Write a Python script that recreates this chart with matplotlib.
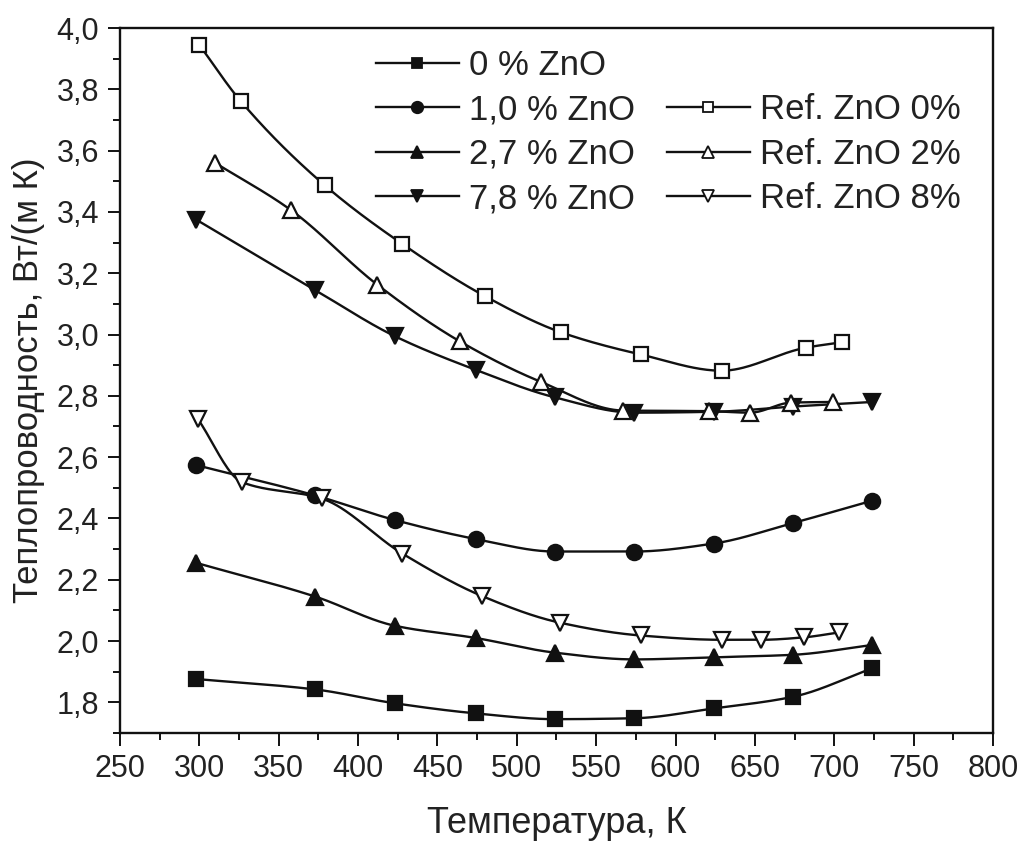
import numpy as np
import matplotlib
matplotlib.use("Agg")
import matplotlib.pyplot as plt
from matplotlib.lines import Line2D
from matplotlib.ticker import MultipleLocator, FuncFormatter

plt.rcParams['font.family'] = ['Liberation Sans', 'DejaVu Sans']

# ---- data ----
T_exp = [298, 373, 423, 474, 524, 574, 624, 674, 724]
k_0 = [1.876, 1.842, 1.797, 1.764, 1.745, 1.748, 1.780, 1.818, 1.911]
k_10 = [2.574, 2.475, 2.395, 2.333, 2.292, 2.292, 2.318, 2.385, 2.458]
k_27 = [2.255, 2.145, 2.050, 2.010, 1.962, 1.940, 1.947, 1.955, 1.987]
k_78 = [3.375, 3.145, 2.995, 2.885, 2.795, 2.745, 2.748, 2.765, 2.780]

T_ref0 = [300, 326, 379, 428, 480, 528, 578, 629, 682, 705]
k_ref0 = [3.945, 3.762, 3.487, 3.295, 3.125, 3.007, 2.935, 2.882, 2.957, 2.975]

T_ref2 = [310, 358, 412, 464, 515, 567, 621, 647, 673, 699]
k_ref2 = [3.560, 3.405, 3.163, 2.978, 2.846, 2.752, 2.750, 2.745, 2.778, 2.780]

T_ref8 = [299, 327, 377, 428, 478, 527, 578, 629, 654, 681, 703]
k_ref8 = [2.725, 2.518, 2.465, 2.285, 2.147, 2.060, 2.018, 2.004, 2.004, 2.012, 2.028]

labels_exp = ['0 % ZnO', '1,0 % ZnO', '2,7 % ZnO', '7,8 % ZnO']
labels_ref = ['Ref. ZnO 0%', 'Ref. ZnO 2%', 'Ref. ZnO 8%']
x_label = 'Температура, К'
y_label = 'Теплопроводность, Вт/(м К)'


def smooth(x, y, n=300):
    """Monotone piecewise cubic (PCHIP) curve through the points."""
    x = np.asarray(x, float)
    y = np.asarray(y, float)
    h = np.diff(x)
    d = np.diff(y) / h
    m = np.zeros_like(y)
    for i in range(1, len(x) - 1):
        if d[i - 1] * d[i] > 0:
            w1 = 2 * h[i] + h[i - 1]
            w2 = h[i] + 2 * h[i - 1]
            m[i] = (w1 + w2) / (w1 / d[i - 1] + w2 / d[i])
    m[0] = d[0]
    m[-1] = d[-1]
    xs = np.linspace(x[0], x[-1], n)
    idx = np.clip(np.searchsorted(x, xs) - 1, 0, len(x) - 2)
    t = (xs - x[idx]) / h[idx]
    h00 = 2 * t ** 3 - 3 * t ** 2 + 1
    h10 = t ** 3 - 2 * t ** 2 + t
    h01 = -2 * t ** 3 + 3 * t ** 2
    h11 = t ** 3 - t ** 2
    ys = (h00 * y[idx] + h10 * h[idx] * m[idx]
          + h01 * y[idx + 1] + h11 * h[idx] * m[idx + 1])
    return xs, ys


fig = plt.figure(figsize=(10.2, 8.42), dpi=100)
ax = fig.add_axes([0.1176, 0.1295, 0.8559, 0.8372])

lw = 1.7
ec = '#111111'
series = [
    (T_exp, k_0, 's', ec, 10, labels_exp[0]),
    (T_exp, k_10, 'o', ec, 11, labels_exp[1]),
    (T_exp, k_27, '^', ec, 11, labels_exp[2]),
    (T_exp, k_78, 'v', ec, 11, labels_exp[3]),
    (T_ref0, k_ref0, 's', 'white', 10, labels_ref[0]),
    (T_ref2, k_ref2, '^', 'white', 12, labels_ref[1]),
    (T_ref8, k_ref8, 'v', 'white', 12, labels_ref[2]),
]
handles = []
for xs, ys, mk, fc, ms, lab in series:
    sx, sy = smooth(xs, ys)
    ax.plot(sx, sy, '-', color=ec, lw=lw, zorder=2)
    ax.plot(xs, ys, linestyle='none', marker=mk, ms=ms, mfc=fc, mec=ec,
            mew=1.6, zorder=3)
    handles.append(Line2D([], [], color=ec, lw=lw, marker=mk, ms=ms * 0.75,
                          mfc=fc, mec=ec, mew=1.3, label=lab))

blank = Line2D([], [], linestyle='none', marker=None, label=' ')
leg_handles = handles[:4] + [blank] + handles[4:]
leg = ax.legend(handles=leg_handles, ncol=2, loc='upper left',
                bbox_to_anchor=(0.265, 1.005), frameon=False, fontsize=25,
                handlelength=2.4, handletextpad=0.3, columnspacing=0.9,
                labelspacing=0.33, borderaxespad=0.3)
for t in leg.get_texts():
    t.set_color('#222222')

ax.set_xlim(250, 800)
ax.set_ylim(1.70, 4.0)
ax.xaxis.set_major_locator(MultipleLocator(50))
ax.xaxis.set_minor_locator(MultipleLocator(25))
ax.yaxis.set_major_locator(MultipleLocator(0.2))
ax.yaxis.set_minor_locator(MultipleLocator(0.1))
ax.yaxis.set_major_formatter(FuncFormatter(lambda v, p: f'{v:.1f}'.replace('.', ',')))

ax.tick_params(which='both', direction='out', top=False, right=False,
               colors='#111111', labelcolor='#222222', width=1.4)
ax.tick_params(which='major', length=9, labelsize=22, pad=6)
ax.tick_params(which='minor', length=5)
for s in ax.spines.values():
    s.set_linewidth(1.7)
    s.set_color('#111111')

ax.set_xlabel(x_label, fontsize=26, color='#222222', labelpad=16)
ax.set_ylabel(y_label, fontsize=25, color='#222222', labelpad=8)

fig.savefig('out.png', dpi=100, facecolor='white')
